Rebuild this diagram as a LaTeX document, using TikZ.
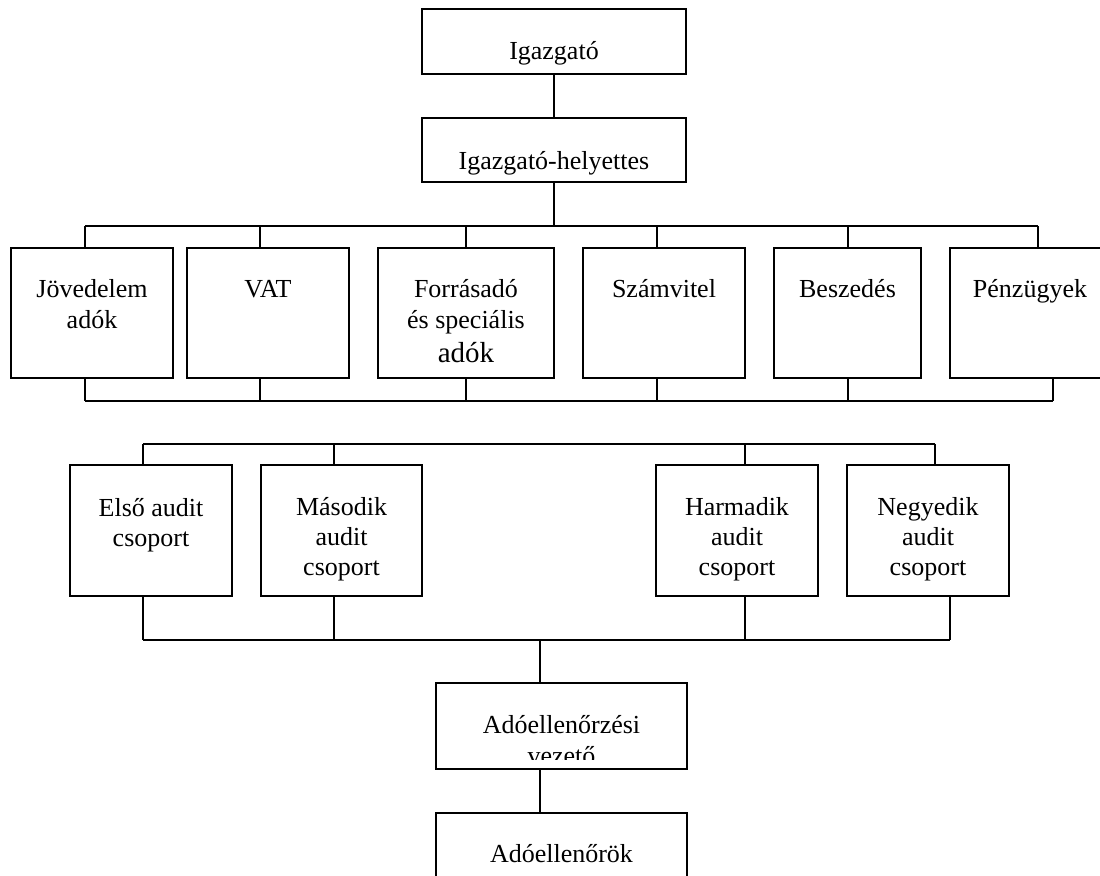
\documentclass[tikz,border=0pt]{standalone}
\usepackage{fontspec}
\setmainfont{Liberation Serif}
\usetikzlibrary{fit}
\begin{document}
\begin{tikzpicture}[x=0.5pt,y=-0.5pt,
  box/.style={draw, line width=1pt, inner sep=0pt, fit={#1}},
  wire/.style={line width=1pt},
  lbl/.style={anchor=base, inner sep=0pt, align=center,
    font=\fontsize{13}{15.5}\selectfont},
  albl/.style={lbl, font=\fontsize{13}{15}\selectfont}]
\useasboundingbox (0,0) rectangle (1100,876);

% boxes
\node[box={(422,9) (686,74)}] (igaz) {};
\node[box={(422,118) (686,182)}] (hely) {};
\node[box={(11,248) (173,378)}] (jov) {};
\node[box={(187,248) (349,378)}] (vat) {};
\node[box={(378,248) (554,378)}] (forr) {};
\node[box={(583,248) (745,378)}] (szam) {};
\node[box={(774,248) (921,378)}] (besz) {};
\node[box={(950,248) (1112,378)}] (penz) {};
\node[box={(70,465) (232,596)}] (elso) {};
\node[box={(261,465) (422,596)}] (maso) {};
\node[box={(656,465) (818,596)}] (harm) {};
\node[box={(847,465) (1009,596)}] (negy) {};
\node[box={(436,683) (687,769)}] (vez) {};
\node[box={(436,813) (687,900)}] (adoel) {};

% labels (anchored at the baseline of the last line)
\node[lbl] (igazt) at (554,60) {Igazgató};
\node[lbl] (helyt) at (554,170) {Igazgató-helyettes};
\node[lbl] (jovt) at (92,329) {Jövedelem\\adók};
\node[lbl] (vatt) at (268,298) {VAT};
\node[lbl] (forrt) at (466,363) {Forrásadó\\és speciális\\[1.5pt]{\fontsize{14.5}{15.5}\selectfont adók}};
\node[lbl] (szamt) at (664,298) {Számvitel};
\node[lbl] (beszt) at (847.5,298) {Beszedés};
\node[lbl] (penzt) at (1030,298) {Pénzügyek};
\node[albl] (elsot) at (151,547) {Első audit\\csoport};
\node[albl] (masot) at (341.5,576) {Második\\audit\\csoport};
\node[albl] (harmt) at (737,576) {Harmadik\\audit\\csoport};
\node[albl] (negyt) at (928,576) {Negyedik\\audit\\csoport};
\begin{scope}
  \clip (436,683) rectangle (687,759.5);
  \node[lbl] (vezt) at (561.5,765) {Adóellenőrzési\\vezető};
\end{scope}
\node[lbl] (adoelt) at (561.5,863) {Adóellenőrök};

% bus points
\coordinate (tb1) at (85,226.5);   \coordinate (tb2) at (260,226.5);
\coordinate (tb3) at (466,226.5);  \coordinate (tb4) at (657,226.5);
\coordinate (tb5) at (847.5,226.5);\coordinate (tb6) at (1038,226.5);
\coordinate (bb1) at (85,401);   \coordinate (bb2) at (260,401);
\coordinate (bb3) at (466,401);  \coordinate (bb4) at (657,401);
\coordinate (bb5) at (847.5,401);\coordinate (bb6) at (1053,401);
\coordinate (ab1) at (143,444);  \coordinate (ab2) at (334,444);
\coordinate (ab3) at (745,444);  \coordinate (ab4) at (935,444);
\coordinate (ac1) at (143,640);  \coordinate (ac2) at (334,640);
\coordinate (ac3) at (745,640);  \coordinate (ac4) at (950,640);
\coordinate (acm) at (540,640);

% connectors
\draw[wire] (igaz) -- (hely);
\draw[wire] (hely.south) -- (hely.south |- tb1);
\draw[wire] (tb1) -- (tb6);
\draw[wire] (tb1) -- (jov.north -| tb1);
\draw[wire] (tb2) -- (vat.north -| tb2);
\draw[wire] (tb3) -- (forr.north -| tb3);
\draw[wire] (tb4) -- (szam.north -| tb4);
\draw[wire] (tb5) -- (besz.north -| tb5);
\draw[wire] (tb6) -- (penz.north -| tb6);
\draw[wire] (bb1) -- (bb6);
\draw[wire] (jov.south -| bb1) -- (bb1);
\draw[wire] (vat.south -| bb2) -- (bb2);
\draw[wire] (forr.south -| bb3) -- (bb3);
\draw[wire] (szam.south -| bb4) -- (bb4);
\draw[wire] (besz.south -| bb5) -- (bb5);
\draw[wire] (penz.south -| bb6) -- (bb6);
\draw[wire] (ab1) -- (ab4);
\draw[wire] (ab1) -- (elso.north -| ab1);
\draw[wire] (ab2) -- (maso.north -| ab2);
\draw[wire] (ab3) -- (harm.north -| ab3);
\draw[wire] (ab4) -- (negy.north -| ab4);
\draw[wire] (ac1) -- (ac4);
\draw[wire] (elso.south -| ac1) -- (ac1);
\draw[wire] (maso.south -| ac2) -- (ac2);
\draw[wire] (harm.south -| ac3) -- (ac3);
\draw[wire] (negy.south -| ac4) -- (ac4);
\draw[wire] (acm) -- (vez.north -| acm);
\draw[wire] (vez.south -| acm) -- (adoel.north -| acm);
\end{tikzpicture}
\end{document}
